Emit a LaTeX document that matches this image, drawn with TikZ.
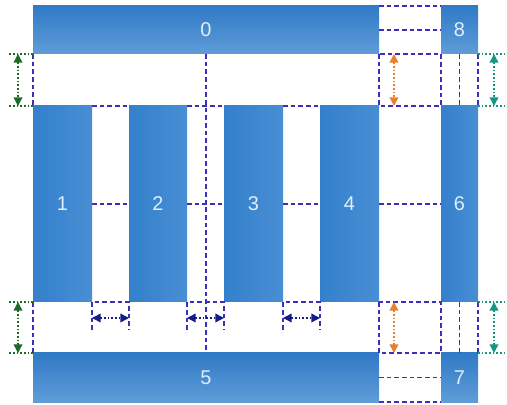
\documentclass[tikz,border=0pt]{standalone}
\usepackage{fontspec}
\setmainfont{Liberation Sans}
\usetikzlibrary{positioning,calc}
\usetikzlibrary{arrows.meta}
\definecolor{BarTop}{RGB}{48,122,198}
\definecolor{BarBot}{RGB}{96,156,216}
\definecolor{ColLeft}{RGB}{52,128,204}
\definecolor{ColRight}{RGB}{72,142,212}
\definecolor{LabWhite}{RGB}{226,238,250}
\definecolor{GuideBlue}{RGB}{58,48,190}
\definecolor{DimGreen}{RGB}{28,108,40}
\definecolor{DimOrange}{RGB}{228,128,48}
\definecolor{DimTeal}{RGB}{22,150,130}
\definecolor{DimNavy}{RGB}{20,28,140}
\def\pxu{0.03cm}
\tikzset{
  bar/.style={inner sep=0pt,outer sep=0pt,text=LabWhite,font=\fontsize{17}{20}\selectfont},
  hbar/.style={bar,top color=BarTop,bottom color=BarBot},
  vbar/.style={bar,left color=ColLeft,right color=ColRight},
  guide/.style={draw=GuideBlue,line width=1.3pt,dash pattern=on 1.4mm off 0.9mm},
  dimline/.style={line width=1.2pt,dash pattern=on 0.5mm off 0.6mm,{Triangle[length=2.6mm,width=2.6mm]}-{Triangle[length=2.6mm,width=2.6mm]}},
  extline/.style={line width=1.2pt,dash pattern=on 0.5mm off 0.6mm},
}
\begin{document}
\begin{tikzpicture}[x=\pxu,y=-\pxu]
\useasboundingbox (0,0) rectangle (507,405);
% bars
\node[hbar,minimum width=346*\pxu,minimum height=48*\pxu](b0)at(206,30){0};
\node[hbar,minimum width=37*\pxu,minimum height=48*\pxu](b8)at(459.5,30){8};
\node[vbar,minimum width=59*\pxu,minimum height=196*\pxu](b1)at(62.5,204){1};
\node[vbar,minimum width=58*\pxu,minimum height=196*\pxu](b2)at(158,204){2};
\node[vbar,minimum width=59*\pxu,minimum height=196*\pxu](b3)at(253.5,204){3};
\node[vbar,minimum width=59*\pxu,minimum height=196*\pxu](b4)at(349.5,204){4};
\node[vbar,minimum width=37*\pxu,minimum height=196*\pxu](b6)at(459.5,204){6};
\node[hbar,minimum width=346*\pxu,minimum height=49*\pxu](b5)at(206,377.5){5};
\node[hbar,minimum width=37*\pxu,minimum height=49*\pxu](b7)at(459.5,377.5){7};
% guides between the columns
\draw[guide](b0.south)--(b5.north);
\foreach \a/\b in {b1/b2,b2/b3,b3/b4,b4/b6}{\draw[guide](\a.east)--(\b.west);}
\foreach \a/\b in {b1/b2,b2/b3,b3/b4}{
  \draw[guide](\a.north east)--(\b.north west);
  \draw[guide]($(\a.south east)+(0,28)$)--(\a.south east)--(\b.south west)--($(\b.south west)+(0,28)$);
  \draw[dimline,DimNavy]($(\a.south east)+(0,16)$)--($(\b.south west)+(0,16)$);
}
\draw[guide](b0.south west)--(b1.north west);
\draw[guide](b1.south west)--(b5.north west);
% right column
\draw[guide](b0.north east)--(b8.north west);
\draw[guide](b0.east)--(b8.west);
\draw[guide](b0.south east)rectangle(b6.north west);
\draw[guide](b8.south)--(b6.north);
\draw[guide](b8.south east)--(b6.north east);
\draw[guide](b4.south east)rectangle(b7.north west);
\draw[guide](b6.south)--(b7.north);
\draw[guide](b6.south east)--(b7.north east);
\draw[guide](b5.east)--(b7.west);
\draw[guide](b5.south east)--(b7.south west);
% dimensions
\draw[extline,DimGreen](b0.south west)--++(-25,0);
\draw[extline,DimGreen](b1.north west)--++(-25,0);
\draw[dimline,DimGreen]($(b0.south west)+(-15,0)$)--($(b1.north west)+(-15,0)$);
\draw[extline,DimGreen](b1.south west)--++(-25,0);
\draw[extline,DimGreen](b5.north west)--++(-25,0);
\draw[dimline,DimGreen]($(b1.south west)+(-15,0)$)--($(b5.north west)+(-15,0)$);
\draw[dimline,DimOrange]($(b0.south east)+(15,0)$)--($(b4.north east)+(15,0)$);
\draw[dimline,DimOrange]($(b4.south east)+(15,0)$)--($(b5.north east)+(15,0)$);
\draw[extline,DimTeal](b8.south east)--++(29,0);
\draw[extline,DimTeal](b6.north east)--++(29,0);
\draw[dimline,DimTeal]($(b8.south east)+(16,0)$)--($(b6.north east)+(16,0)$);
\draw[extline,DimTeal](b6.south east)--++(29,0);
\draw[extline,DimTeal](b7.north east)--++(29,0);
\draw[dimline,DimTeal]($(b6.south east)+(16,0)$)--($(b7.north east)+(16,0)$);
\end{tikzpicture}
\end{document}
